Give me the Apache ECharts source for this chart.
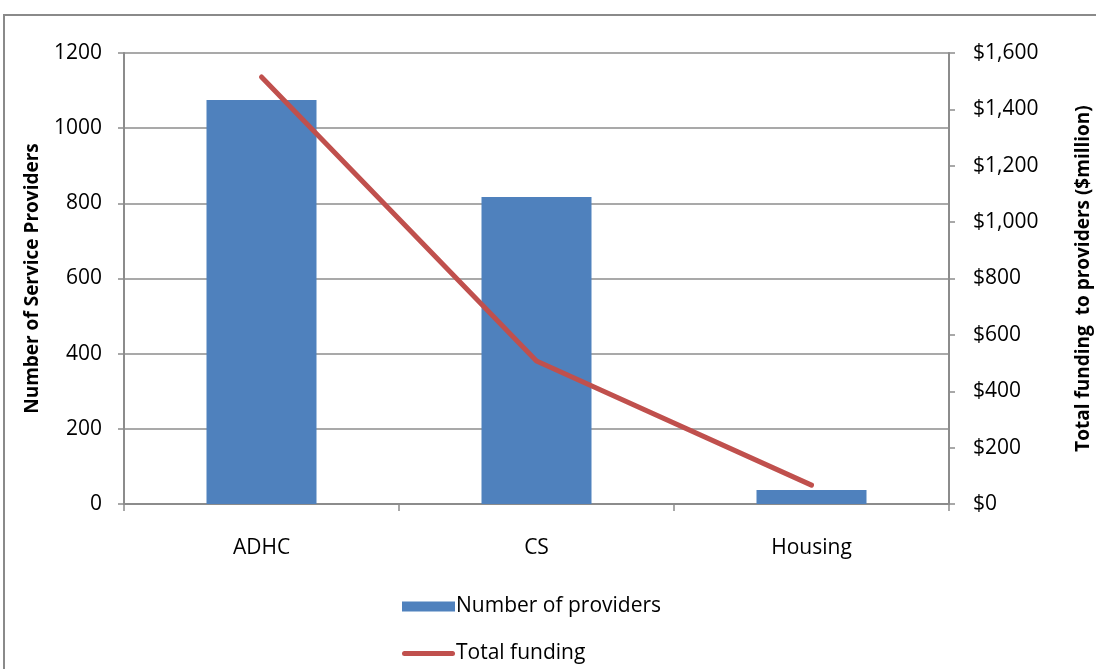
<!DOCTYPE html>
<html>
<head>
<meta charset="utf-8">
<script src="https://cdn.jsdelivr.net/npm/echarts@6/dist/echarts.min.js"></script>
<style>
  html, body { margin: 0; padding: 0; background: #fff; }
  #chart { width: 1096px; height: 669px; }
</style>
</head>
<body>
<div id="chart"></div>
<script>
// Service providers by program area, with total funding to providers
const categories = ['ADHC', 'CS', 'Housing'];
const providerCounts = [1075, 817, 37];
const totalFunding = [1515, 507, 67];   // $ million
const leftTicks = { min: 0, max: 1200, interval: 200 };
const rightTicks = { min: 0, max: 1600, interval: 200 };

const FONT = '"Open Sans", "Noto Sans", sans-serif';
const AXIS_GRAY = '#8c8c8c';
const LABEL_SIZE = 21;

function money(v) {
  return '$' + v.toLocaleString('en-US');
}

// one legend block per row, stacked under the plot
function legendRow(top, item) {
  return {
    orient: 'vertical',
    left: 397,
    top: top,
    itemWidth: 53,
    itemHeight: 10,
    textStyle: { fontFamily: FONT, fontSize: LABEL_SIZE, color: '#000', padding: [0, 0, 0, -4] },
    data: [item]
  };
}

const chart = echarts.init(document.getElementById('chart'), null, { renderer: 'canvas' });

chart.setOption({
  animation: false,
  backgroundColor: '#ffffff',
  textStyle: { fontFamily: FONT },
  graphic: [{
    type: 'rect',
    shape: { x: 4, y: 15, width: 1200, height: 800 },
    style: { fill: 'none', stroke: '#8a8a8a', lineWidth: 2 },
    silent: true
  }],
  grid: { left: 124, right: 147, top: 53, bottom: 165, containLabel: false, outerBoundsMode: 'none' },
  legend: [
    legendRow(591, { name: 'Number of providers', icon: 'rect' }),
    legendRow(638, {
      name: 'Total funding',
      icon: 'path://M2.5,0 L50.5,0 A2.5,2.5 0 0 1 50.5,5 L2.5,5 A2.5,2.5 0 0 1 2.5,0 Z',
      itemStyle: { color: '#C0504D' }
    })
  ],
  xAxis: {
    type: 'category',
    data: categories,
    boundaryGap: true,
    axisLine: { show: true, lineStyle: { color: AXIS_GRAY, width: 2 } },
    axisTick: { show: true, length: 7, lineStyle: { color: AXIS_GRAY, width: 1.5 } },
    axisLabel: { color: '#000', fontSize: LABEL_SIZE, fontFamily: FONT, margin: 34 }
  },
  yAxis: [
    {
      type: 'value',
      min: leftTicks.min,
      max: leftTicks.max,
      interval: leftTicks.interval,
      name: 'Number of Service Providers',
      nameLocation: 'middle',
      nameGap: 82,
      nameRotate: 90,
      nameTextStyle: { fontFamily: FONT, fontSize: 19, fontWeight: 'bold', color: '#000' },
      axisLine: { show: true, lineStyle: { color: AXIS_GRAY, width: 2 } },
      axisTick: { show: true, length: 6, lineStyle: { color: AXIS_GRAY, width: 1.5 } },
      axisLabel: { color: '#000', fontSize: LABEL_SIZE, fontFamily: FONT, margin: 22, formatter: v => String(v) },
      splitLine: { show: true, lineStyle: { color: AXIS_GRAY, width: 1.5 } }
    },
    {
      type: 'value',
      min: rightTicks.min,
      max: rightTicks.max,
      interval: rightTicks.interval,
      position: 'right',
      name: 'Total funding  to providers ($million)',
      nameLocation: 'middle',
      nameGap: 125,
      nameRotate: 90,
      nameTextStyle: { fontFamily: FONT, fontSize: 19, fontWeight: 'bold', color: '#000' },
      axisLine: { show: true, lineStyle: { color: AXIS_GRAY, width: 2 } },
      axisTick: { show: true, length: 6, lineStyle: { color: AXIS_GRAY, width: 1.5 } },
      axisLabel: { color: '#000', fontSize: LABEL_SIZE, fontFamily: FONT, margin: 24, formatter: money },
      splitLine: { show: false }
    }
  ],
  series: [
    {
      name: 'Number of providers',
      type: 'bar',
      yAxisIndex: 0,
      data: providerCounts,
      barWidth: '40%',
      itemStyle: { color: '#4F81BD' }
    },
    {
      name: 'Total funding',
      type: 'line',
      yAxisIndex: 1,
      data: totalFunding,
      symbol: 'none',
      lineStyle: { color: '#C0504D', width: 5, cap: 'round', join: 'round' },
      itemStyle: { color: '#C0504D' }
    }
  ]
});
</script>
</body>
</html>
